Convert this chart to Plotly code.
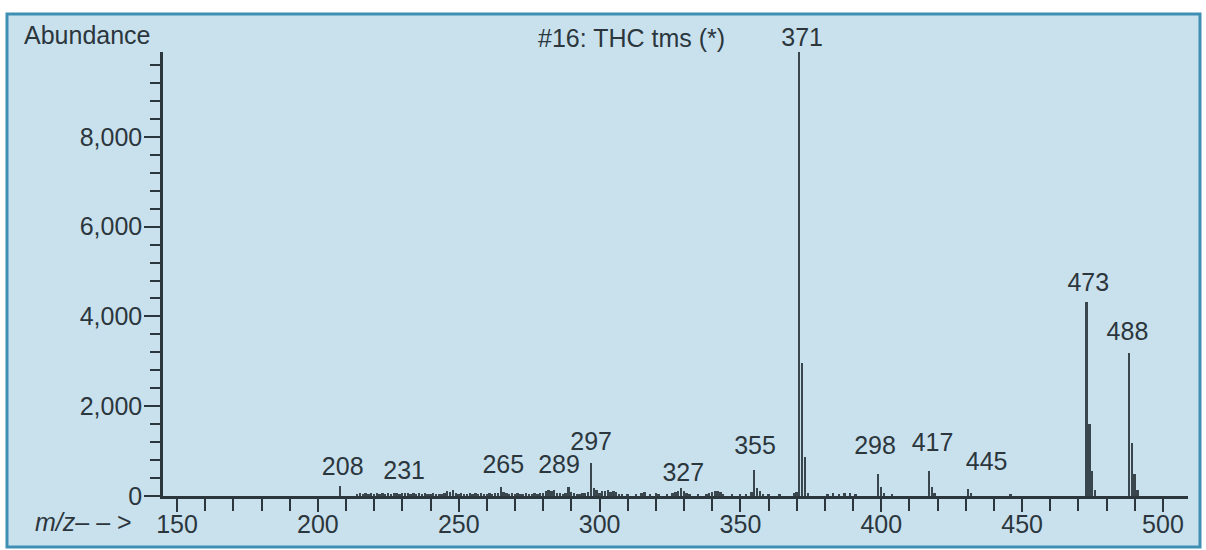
import plotly.graph_objects as go

# ---- data: m/z and abundance of each line in the spectrum ----
mz = [214, 215, 216, 217, 218, 219, 220, 221, 222, 223, 224, 225, 226, 227, 228, 229,
      230, 231, 232, 233, 234, 235, 236, 237, 238, 239, 240, 241, 242, 243, 244, 245,
      246, 247, 248, 249, 250, 251, 252, 253, 254, 255, 256, 257, 258, 259, 260, 261,
      262, 263, 264, 265, 266, 267, 268, 269, 270, 271, 272, 273, 274, 275, 276, 277,
      278, 279, 280, 281, 282, 283, 284, 285, 286, 287, 288, 289, 290, 291, 292, 293,
      294, 295, 296, 297, 298, 299, 300, 301, 302, 303, 304, 305, 306, 307, 308, 310,
      313, 315, 316, 318, 320, 321, 324, 326, 327, 328, 329, 330, 331, 332, 335, 338,
      339, 340, 341, 342, 343, 344, 347, 350, 352, 354, 355, 356, 357, 358, 360, 364,
      369, 370, 371, 372, 373, 374, 381, 383, 385, 387, 389, 391, 399, 400, 401, 404,
      417, 418, 419, 431, 432, 446, 473, 474, 475, 476, 488, 489, 490, 491, 208]
abundance = [40, 60, 50, 60, 40, 60, 50, 60, 50, 70, 50, 60, 50, 60, 70, 50,
             60, 70, 60, 50, 60, 50, 60, 40, 60, 50, 50, 60, 40, 50, 40, 60,
             120, 90, 130, 60, 50, 60, 50, 40, 60, 50, 60, 50, 60, 40, 50, 60,
             50, 70, 60, 200, 90, 60, 50, 60, 50, 60, 40, 50, 60, 50, 40, 60,
             50, 60, 60, 120, 130, 110, 130, 60, 70, 50, 60, 190, 80, 60, 50, 40,
             60, 70, 80, 730, 170, 130, 60, 110, 120, 130, 90, 110, 90, 50, 40, 30,
             40, 60, 80, 40, 60, 50, 40, 60, 90, 120, 170, 110, 70, 40, 40, 50,
             60, 100, 110, 110, 80, 40, 30, 40, 50, 80, 580, 170, 110, 50, 30, 30,
             60, 100, 9890, 2960, 875, 60, 50, 60, 50, 60, 60, 40, 480, 210, 60, 30,
             560, 200, 70, 150, 70, 50, 4330, 1600, 560, 130, 3190, 1170, 490, 130, 230]

# peak annotations (text, m/z of label, abundance level of label)
label_text = ["208", "231", "265", "289", "297", "327", "355", "371",
              "298", "417", "445", "473", "488"]
label_mz = [208.8, 230.6, 265.8, 285.6, 297.0, 329.7, 355.2, 371.9,
            397.8, 418.2, 437.4, 473.5, 487.4]
label_level = [600, 510, 650, 650, 1160, 470, 1080, 9890,
               1070, 1140, 710, 4700, 3620]
label_pos = ["middle center"] * 7 + ["top center"] + ["middle center"] * 5

title_text = "#16: THC tms (*)"
y_title = "Abundance"
x_title = "<i>m/z</i>– – >"

INK = "#2b363d"
BAR = "#3a464e"
FONT = "Liberation Sans, Arial, Helvetica, sans-serif"
FS = 25

fig = go.Figure()
fig.add_trace(go.Bar(x=mz, y=abundance, width=0.65,
                     marker=dict(color=BAR, line=dict(width=0)),
                     hoverinfo="x+y", showlegend=False))
fig.add_trace(go.Scatter(x=label_mz, y=label_level, text=label_text,
                         mode="text", textposition=label_pos,
                         textfont=dict(size=FS, color=INK, family=FONT),
                         cliponaxis=False, showlegend=False, hoverinfo="skip"))

fig.update_layout(
    width=1206, height=550,
    margin=dict(l=163, r=18, t=52, b=54, autoexpand=False),
    paper_bgcolor="white",
    plot_bgcolor="rgba(0,0,0,0)",
    font=dict(family=FONT, size=FS, color=INK),
    showlegend=False,
    xaxis=dict(range=[145.0, 508.9], showgrid=False, zeroline=False,
               automargin=False,
               showline=True, linewidth=2.5, linecolor=INK,
               ticks="outside", ticklen=13, tickwidth=2, tickcolor=INK,
               tick0=150, dtick=50, ticklabelstandoff=-9,
               minor=dict(dtick=10, tick0=150, ticks="outside", ticklen=12,
                          tickwidth=2, tickcolor=INK, showgrid=False),
               tickfont=dict(size=FS, color=INK, family=FONT)),
    yaxis=dict(range=[0, 9890], showgrid=False, zeroline=False,
               automargin=False,
               showline=True, linewidth=2.5, linecolor=INK,
               ticks="outside", ticklen=16, tickwidth=2, tickcolor=INK,
               tick0=0, dtick=2000, tickformat=",d", ticklabelstandoff=-3,
               minor=dict(dtick=400, tick0=0, ticks="outside", ticklen=10,
                          tickwidth=2, tickcolor=INK, showgrid=False),
               tickfont=dict(size=FS, color=INK, family=FONT)),
    shapes=[dict(type="rect", xref="paper", yref="paper", layer="below",
                 x0=-0.1522, x1=1.0117, y0=-0.1149, y1=1.0856,
                 fillcolor="#c9e1ed", line=dict(color="#3f8fb5", width=3))],
    annotations=[
        dict(text=y_title, xref="paper", yref="paper", x=-0.1376, y=1.038,
             xanchor="left", yanchor="middle", showarrow=False,
             font=dict(size=FS, color=INK, family=FONT)),
        dict(text=title_text, xref="paper", yref="paper", x=0.4566, y=1.0315,
             xanchor="center", yanchor="middle", showarrow=False,
             font=dict(size=FS, color=INK, family=FONT)),
        dict(text=x_title, xref="paper", yref="paper", x=-0.1268, y=-0.0586,
             xanchor="left", yanchor="middle", showarrow=False,
             font=dict(size=FS, color=INK, family=FONT)),
    ],
    bargap=0,
)

fig.write_html("out.html",
               config={"displayModeBar": False},
               post_script="document.body.style.margin='0px';"
                           "document.body.style.overflow='hidden';")
